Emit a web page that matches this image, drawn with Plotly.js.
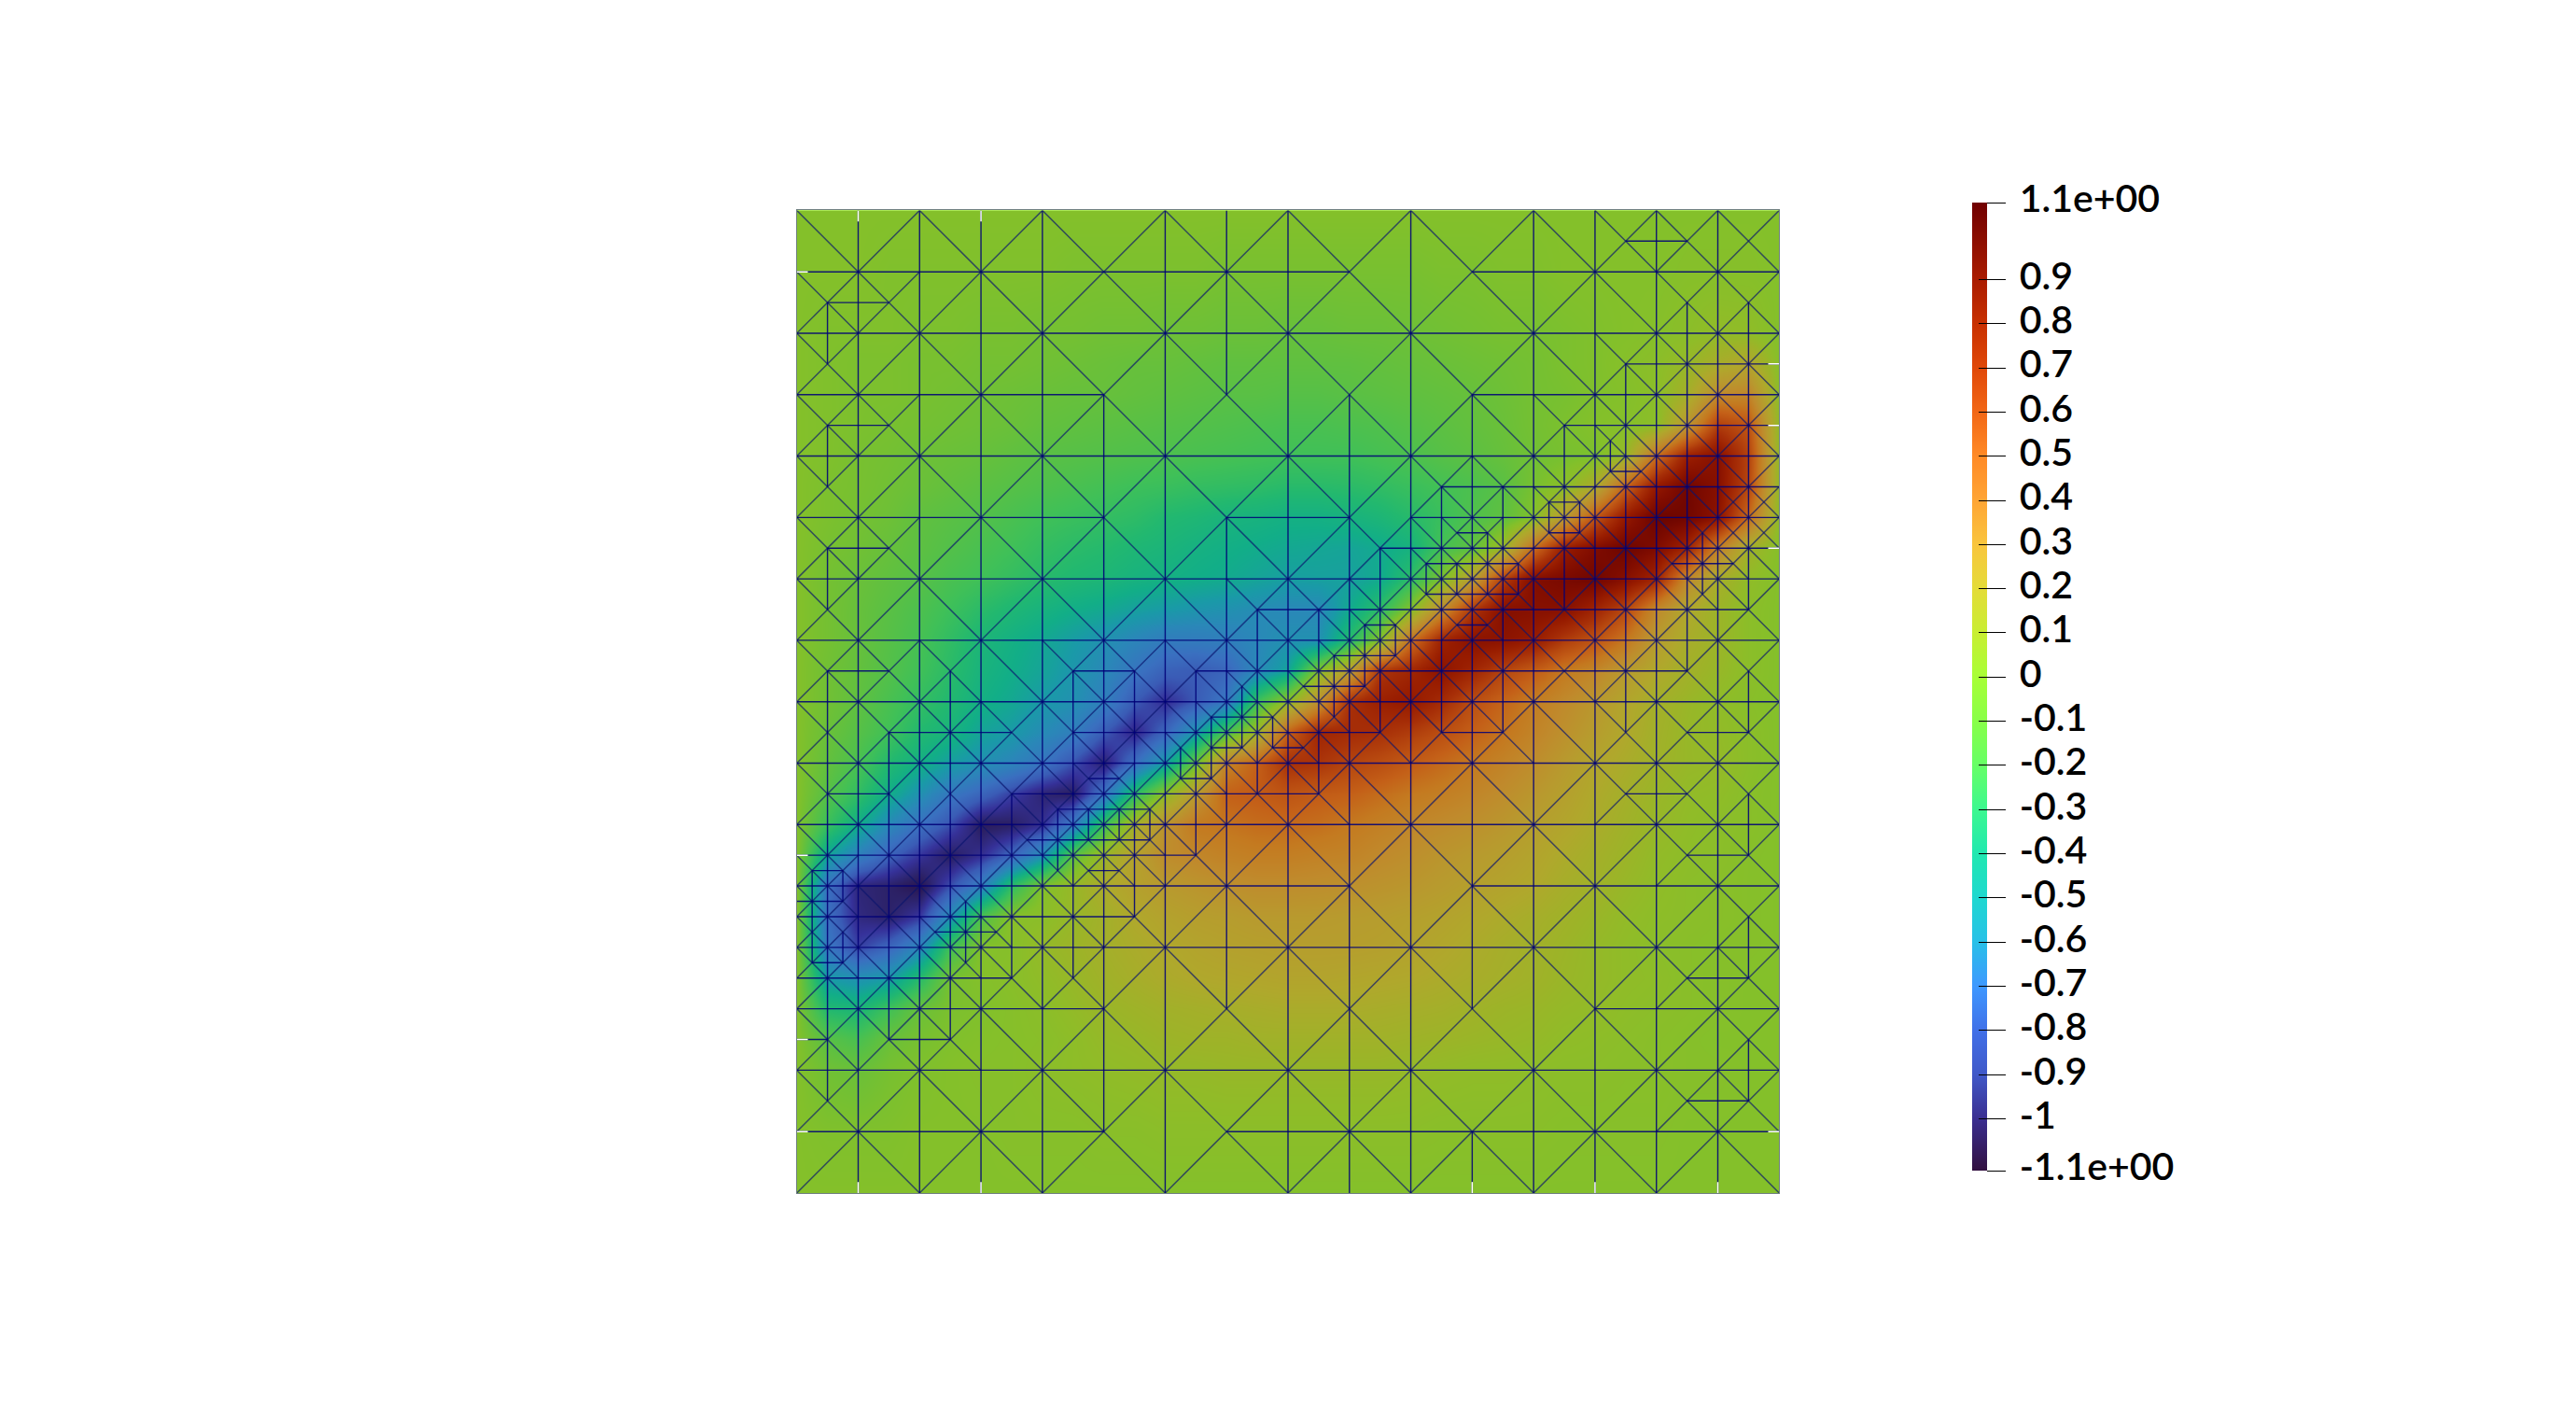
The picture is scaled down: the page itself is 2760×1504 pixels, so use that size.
<!DOCTYPE html>
<html>
<head>
<meta charset="utf-8">
<script src="https://cdn.plot.ly/plotly-3.0.1.min.js"></script>
<style>html,body{margin:0;padding:0;background:#fff;overflow:hidden}#chart{width:2760px;height:1504px}</style>
</head>
<body>
<div id="chart"></div>
<script>
// Field samples: columns x = 0, 0.5, ... 16
var gridX = [0,.5,1,1.5,2,2.5,3,3.5,4,4.5,5,5.5,6,6.5,7,7.5,8,8.5,9,9.5,10,10.5,11,11.5,12,12.5,13,13.5,14,14.5,15,15.5,16];
var gridY = [0,1,2,2.5,3,3.5,4,4.5,5,5.5,6,6.5,7,7.5,8,8.5,9,9.5,10,10.5,11,11.5,12,12.5,13,13.5,14,15,16];
var fieldZ = [
[0,0,0,0,0,0,0,0,0,0,0,0,0,0,0,0,0,0,0,0,0,0,0,0,0,0,0,0,0,0,0,0,0],
[0,0,0,-.01,-.01,-.01,-.01,-.01,-.01,-.02,-.02,-.02,-.02,-.02,-.03,-.03,-.03,-.03,-.03,-.03,-.03,-.02,-.02,-.01,-.01,0,0,0,0,.01,.01,.01,0],
[0,-.01,-.01,-.01,-.02,-.02,-.03,-.03,-.04,-.04,-.05,-.05,-.06,-.06,-.07,-.07,-.08,-.08,-.07,-.07,-.06,-.05,-.04,-.03,-.03,-.02,-.01,0,.01,.03,.06,.05,0],
[0,-.01,-.02,-.02,-.03,-.03,-.04,-.04,-.05,-.06,-.07,-.08,-.08,-.09,-.1,-.1,-.1,-.1,-.1,-.09,-.08,-.07,-.06,-.05,-.04,-.02,-.01,.01,.03,.08,.16,.22,.01],
[0,-.01,-.02,-.02,-.03,-.04,-.05,-.06,-.07,-.08,-.08,-.09,-.1,-.11,-.12,-.12,-.13,-.13,-.12,-.11,-.1,-.09,-.08,-.06,-.04,-.03,-.01,0,.03,.14,.4,.42,.03],
[0,-.01,-.02,-.03,-.04,-.05,-.06,-.07,-.09,-.1,-.11,-.12,-.13,-.14,-.15,-.16,-.17,-.17,-.16,-.15,-.13,-.11,-.09,-.07,-.04,-.02,0,.01,.03,.32,.75,.65,.04],
[0,-.01,-.03,-.04,-.06,-.07,-.08,-.1,-.12,-.13,-.14,-.15,-.16,-.17,-.18,-.19,-.2,-.2,-.2,-.18,-.16,-.13,-.11,-.08,-.05,-.03,-.02,.08,.55,.88,.97,.72,.05],
[0,-.02,-.03,-.05,-.07,-.09,-.11,-.13,-.15,-.17,-.19,-.21,-.22,-.24,-.25,-.26,-.28,-.28,-.27,-.25,-.22,-.19,-.16,-.12,-.03,.03,.18,.6,.92,1.05,.97,.7,.05],
[0,-.02,-.04,-.06,-.1,-.12,-.14,-.17,-.2,-.22,-.24,-.26,-.3,-.32,-.35,-.36,-.38,-.38,-.36,-.33,-.28,-.22,-.15,-.1,0,.3,.65,.92,1.07,1.05,.95,.55,.03],
[0,-.03,-.05,-.08,-.11,-.14,-.17,-.2,-.24,-.27,-.29,-.32,-.34,-.37,-.39,-.41,-.43,-.44,-.45,-.42,-.36,-.18,-.1,.1,.55,.9,1.0,1.06,1.0,.85,.45,.12,.01],
[0,-.04,-.07,-.1,-.13,-.17,-.2,-.24,-.28,-.31,-.33,-.36,-.38,-.4,-.42,-.45,-.48,-.47,-.47,-.42,-.25,-.01,.28,.75,.99,1.02,1.05,.97,.85,.4,.15,.05,0],
[0,-.04,-.08,-.12,-.16,-.21,-.27,-.32,-.36,-.4,-.43,-.47,-.5,-.53,-.55,-.58,-.6,-.6,-.42,-.25,.02,.4,.78,.98,.97,.97,.85,.7,.4,.2,.1,.03,0],
[0,-.04,-.08,-.13,-.18,-.25,-.33,-.38,-.43,-.49,-.55,-.62,-.68,-.68,-.66,-.6,-.55,-.55,-.28,.02,.55,.87,.96,.95,.9,.75,.65,.5,.28,.16,.1,.03,0],
[0,-.05,-.09,-.14,-.2,-.27,-.35,-.4,-.45,-.52,-.6,-.72,-.82,-.85,-.8,-.6,-.45,.02,.27,.78,.85,.95,.85,.72,.62,.5,.42,.3,.2,.13,.08,.03,0],
[0,-.05,-.1,-.17,-.24,-.3,-.38,-.43,-.5,-.55,-.65,-.85,-.97,-.85,-.7,-.2,.05,.35,.8,.88,.92,.82,.68,.58,.48,.4,.32,.22,.14,.09,.05,.02,0],
[0,-.07,-.13,-.2,-.3,-.35,-.45,-.5,-.58,-.66,-.85,-1.0,-.8,-.5,-.15,.1,.6,.85,.82,.8,.75,.68,.6,.52,.44,.36,.28,.2,.13,.08,.06,.03,0],
[0,-.09,-.17,-.3,-.38,-.48,-.55,-.62,-.72,-.88,-1.04,-.75,-.47,-.05,.45,.6,.8,.78,.72,.68,.62,.56,.5,.44,.38,.3,.22,.17,.12,.08,.07,.03,0],
[0,-.13,-.25,-.4,-.55,-.7,-.8,-.92,-1.03,-1.07,-.72,-.25,.05,.3,.6,.62,.65,.62,.6,.55,.5,.47,.43,.38,.32,.26,.19,.14,.09,.06,.05,.02,0],
[0,-.22,-.4,-.6,-.75,-.88,-1.08,-1.06,-.97,-.68,-.2,.15,.35,.5,.52,.55,.56,.54,.5,.46,.42,.39,.36,.32,.27,.22,.17,.12,.08,.05,.03,.02,0],
[0,-.45,-.65,-.82,-.95,-1.07,-.97,-.8,-.55,-.1,.1,.25,.38,.42,.45,.47,.47,.45,.44,.4,.37,.33,.3,.27,.23,.18,.14,.1,.06,.04,.03,.01,0],
[0,-.75,-1.02,-1.05,-1.12,-.88,-.65,-.25,0,.08,.18,.25,.3,.33,.36,.38,.38,.37,.36,.34,.32,.29,.26,.23,.2,.15,.12,.08,.05,.03,.02,.01,0],
[0,-.75,-1.0,-1.05,-.93,-.55,-.15,.02,.03,.08,.13,.2,.24,.27,.28,.3,.3,.3,.29,.28,.26,.24,.21,.18,.15,.12,.09,.06,.04,.03,.02,.01,0],
[0,-.7,-.92,-.8,-.6,-.2,0,.01,.07,.1,.14,.17,.2,.23,.25,.26,.27,.27,.27,.26,.24,.21,.18,.15,.13,.1,.07,.05,.03,.02,.01,.01,0],
[0,-.5,-.55,-.5,-.28,-.03,0,.02,.05,.08,.12,.15,.18,.2,.21,.22,.23,.23,.22,.21,.2,.18,.16,.14,.12,.09,.07,.05,.04,.02,.01,0,0],
[0,-.3,-.33,-.2,-.07,-.02,-.01,.01,.03,.06,.09,.11,.13,.14,.15,.16,.17,.17,.17,.16,.15,.14,.12,.1,.09,.07,.06,.04,.03,.02,.01,0,0],
[0,-.12,-.17,-.07,-.03,-.01,0,.01,.02,.04,.07,.08,.1,.11,.11,.12,.12,.12,.12,.12,.11,.1,.09,.08,.07,.05,.04,.03,.02,.01,0,0,0],
[0,-.05,-.07,-.03,-.01,0,.01,.01,.03,.04,.05,.06,.07,.07,.08,.08,.08,.08,.08,.08,.07,.06,.05,.05,.04,.03,.03,.02,.02,.01,.01,0,0],
[0,-.01,-.01,-.01,0,0,0,.01,.01,.01,.02,.02,.03,.03,.03,.03,.03,.03,.03,.03,.03,.02,.02,.02,.02,.01,.01,.01,.01,0,0,0,0],
[0,0,0,0,0,0,0,0,0,0,0,0,0,0,0,0,0,0,0,0,0,0,0,0,0,0,0,0,0,0,0,0,0]
];

// Colour stops: the surface as seen in the plot, and the legend bar
var zMin = -1.117, zMax = 1.074;
var surfaceStops  = [-1.117,-1.05,-.95,-.85,-.75,-.6,-.5,-.4,-.3,-.2,-.1,-.03,0,.05,.1,.2,.3,.4,.5,.6,.7,.8,.9,1.0,1.074];
var surfaceColors = ['#2a1650','#2c2268','#36329a','#3a5cb6','#3a70c0','#2a88b8','#1a9aa8','#12ae88','#22b870','#40c058','#60c040','#78c030','#84c02a','#90bc28','#9cb428','#b0a82c','#b89a2e','#c08a2c','#c47a20','#c46018','#b84a10','#a83008','#981c00','#800c00','#6a0400'];
var barStops  = [-1.117,-1,-.9,-.8,-.7,-.6,-.5,-.4,-.3,-.2,-.1,0,.1,.2,.3,.4,.5,.6,.7,.8,.9,1.074];
var barColors = ['#321040','#3a2e90','#4058c8','#4070e8','#3e98ff','#28c0e8','#1ed8d0','#20e8b0','#3cf890','#66ff66','#88ff48','#a8ff36','#c8ee32','#e4dc38','#f9c53d','#ffa535','#ff8a26','#f26716','#e04808','#c83000','#aa1c00','#700000'];

var tickValues = [1.074,.9,.8,.7,.6,.5,.4,.3,.2,.1,0,-.1,-.2,-.3,-.4,-.5,-.6,-.7,-.8,-.9,-1,-1.117];
var tickTexts  = ['1.1e+00','0.9','0.8','0.7','0.6','0.5','0.4','0.3','0.2','0.1','0','-0.1','-0.2','-0.3','-0.4','-0.5','-0.6','-0.7','-0.8','-0.9','-1','-1.1e+00'];

// Mesh edges. Horizontal: [y, x1, x2]
var meshH = [[.5,13.5,14.5],[1,0,9],[1,11,16],[1.5,.5,1.5],[2,0,16],[2.5,13.5,16],[3,0,5],[3,11,16],[3.5,.5,1.5],[3.5,12.5,16],[4,0,16],[4.25,13.25,13.75],[4.5,10.5,16],[4.75,12.25,12.75],[5,0,5],[5,7,9],[5,10,16],[5.25,10.75,11.25],[5.25,12.25,12.75],[5.5,.5,1.5],[5.5,9.5,16],[5.75,10.25,11.75],[5.75,14.25,15.25],[6,0,16],[6.25,10.25,11.75],[6.5,7.5,15.5],[6.75,9.25,9.75],[6.75,10.75,11.25],[7,0,16],[7.25,8.75,9.75],[7.5,.5,1.5],[7.5,4.5,5.5],[7.5,6.5,14.5],[7.75,8.25,9.25],[8,0,16],[8.25,6.75,7.75],[8.5,1.5,3.5],[8.5,4.5,9.5],[8.5,10.5,11.5],[8.5,14.5,15.5],[8.75,6.75,7.25],[8.75,7.75,8.25],[9,0,16],[9.25,4.75,5.25],[9.25,6.25,6.75],[9.5,.5,1.5],[9.5,3.5,8.5],[9.5,13.5,14.5],[9.75,4.25,5.75],[10,0,16],[10.25,3.75,5.75],[10.5,0,6.5],[10.5,14.5,15.5],[10.75,.25,.75],[10.75,4.75,5.25],[11,0,9],[11,11,16],[11.25,0,.75],[11.5,0,5.5],[11.75,2.25,3.25],[12,0,16],[12.25,.25,.75],[12.5,0,3.5],[12.5,14.5,15.5],[13,0,5],[13,13,16],[13.5,0,.5],[13.5,1.5,2.5],[14,0,16],[14.5,14.5,15.5],[15,0,5],[15,7,16]];
// Vertical: [x, y1, y2]
var meshV = [[.25,10.75,12.25],[.5,1.5,2.5],[.5,3.5,4.5],[.5,5.5,6.5],[.5,7.5,14.5],[.75,10.75,11.25],[.75,11.75,12.25],[1,0,16],[1.5,8.5,13.5],[2,0,16],[2.5,7.5,13.5],[2.75,11.25,12.25],[3,0,16],[3.5,9.5,12.5],[4,0,16],[4.25,9.75,10.75],[4.5,7.5,12.5],[4.75,9.75,10.25],[5,3,15],[5.25,9.75,10.25],[5.5,7.5,11.5],[5.75,9.75,10.25],[6,0,16],[6.25,8.75,9.25],[6.5,7.5,10.5],[6.75,8.25,9.25],[7,0,3],[7,5,13],[7.25,7.75,8.75],[7.5,6.5,9.5],[7.75,8.25,8.75],[8,0,16],[8.5,6.5,9.5],[8.75,7.25,8.25],[9,3,16],[9.25,6.75,7.75],[9.5,5.5,8.5],[9.75,6.75,7.25],[10,0,16],[10.25,5.75,6.25],[10.5,4.5,8.5],[10.75,5.75,6.25],[11,3,13],[11,15,16],[11.25,5.25,6.25],[11.5,4.5,8.5],[11.75,5.75,6.25],[12,0,16],[12.25,4.75,5.25],[12.5,3.5,6.5],[12.75,4.75,5.25],[13,0,16],[13.25,3.75,4.25],[13.5,2.5,8.5],[14,0,16],[14.5,1.5,7.5],[14.75,5.25,6.25],[15,0,16],[15.5,1.5,6.5],[15.5,7.5,8.5],[15.5,9.5,10.5],[15.5,11.5,12.5],[15.5,13.5,14.5]];
// Diagonal lattice lines, named by their constant: y-x = c and y+x = c
var latticeFall = [-14,-12,-10,-8,-6,-4,-2,0,2,4,6,8,10,12,14];
var latticeRise = [2,4,6,8,10,12,14,16,18,20,22,24,26,28,30];
// Unit cells split by their second diagonal, as cell centres
var splitCells = [[13.5,.5],[14.5,.5],[15.5,.5],[.5,1.5],[1.5,1.5],[14.5,1.5],[15.5,1.5],[.5,2.5],[13.5,2.5],[14.5,2.5],[15.5,2.5],[.5,3.5],[1.5,3.5],[12.5,3.5],[13.5,3.5],[14.5,3.5],[15.5,3.5],[.5,4.5],[10.5,4.5],[11.5,4.5],[12.5,4.5],[13.5,4.5],[14.5,4.5],[15.5,4.5],[.5,5.5],[1.5,5.5],[9.5,5.5],[10.5,5.5],[11.5,5.5],[12.5,5.5],[13.5,5.5],[14.5,5.5],[15.5,5.5],[.5,6.5],[7.5,6.5],[8.5,6.5],[9.5,6.5],[10.5,6.5],[11.5,6.5],[12.5,6.5],[13.5,6.5],[14.5,6.5],[15.5,6.5],[.5,7.5],[1.5,7.5],[2.5,7.5],[4.5,7.5],[5.5,7.5],[6.5,7.5],[7.5,7.5],[8.5,7.5],[9.5,7.5],[10.5,7.5],[11.5,7.5],[12.5,7.5],[13.5,7.5],[14.5,7.5],[15.5,7.5],[.5,8.5],[1.5,8.5],[2.5,8.5],[3.5,8.5],[4.5,8.5],[5.5,8.5],[6.5,8.5],[7.5,8.5],[8.5,8.5],[9.5,8.5],[10.5,8.5],[11.5,8.5],[13.5,8.5],[14.5,8.5],[15.5,8.5],[.5,9.5],[1.5,9.5],[2.5,9.5],[3.5,9.5],[4.5,9.5],[5.5,9.5],[6.5,9.5],[7.5,9.5],[8.5,9.5],[13.5,9.5],[14.5,9.5],[15.5,9.5],[.5,10.5],[1.5,10.5],[2.5,10.5],[3.5,10.5],[4.5,10.5],[5.5,10.5],[6.5,10.5],[14.5,10.5],[15.5,10.5],[.5,11.5],[1.5,11.5],[2.5,11.5],[3.5,11.5],[4.5,11.5],[5.5,11.5],[15.5,11.5],[.5,12.5],[1.5,12.5],[2.5,12.5],[3.5,12.5],[4.5,12.5],[14.5,12.5],[15.5,12.5],[.5,13.5],[1.5,13.5],[2.5,13.5],[15.5,13.5],[.5,14.5],[14.5,14.5],[15.5,14.5]];
// Half cells split once more, as cell centres
var quarterCells = [[.25,10.75],[.75,10.75],[.25,11.25],[.75,11.25],[.25,11.75],[.25,12.25],[.75,11.75],[.75,12.25],[2.75,11.25],[2.75,11.75],[2.75,12.25],[2.25,11.75],[3.25,11.75],[4.25,9.75],[4.75,9.75],[5.25,9.75],[5.75,9.75],[3.75,10.25],[4.25,10.25],[4.75,10.25],[5.25,10.25],[5.75,10.25],[4.25,10.75],[4.75,9.25],[5.25,9.25],[4.75,10.75],[5.25,10.75],[6.25,8.75],[6.75,8.75],[6.25,9.25],[6.75,9.25],[6.75,8.25],[7.25,8.25],[7.75,8.25],[7.25,8.75],[7.75,8.75],[7.25,7.75],[8.25,8.75],[8.75,7.25],[9.25,7.25],[8.25,7.75],[8.75,7.75],[9.25,7.75],[8.75,8.25],[9.25,6.75],[9.75,6.75],[9.75,7.25],[10.75,6.75],[11.25,6.75],[10.25,5.75],[10.75,5.75],[11.25,5.75],[11.75,5.75],[10.25,6.25],[10.75,6.25],[11.25,6.25],[11.75,6.25],[10.75,5.25],[11.25,5.25],[12.25,4.75],[12.75,4.75],[12.25,5.25],[12.75,5.25],[13.25,3.75],[13.25,4.25],[13.75,4.25],[14.25,5.75],[14.75,5.75],[15.25,5.75],[14.75,5.25],[14.75,6.25],[15.25,4.75],[15.75,4.75],[15.25,5.25],[15.75,5.25]];
// Short white notches on the frame, at mesh positions
var notchTop = [1,3], notchBottom = [1,3,11,13,15], notchLeft = [1,10.5,13.5,15], notchRight = [2.5,3.5,5.5,15];
var notchLen = 0.18;

function scale(stops, colors){ return stops.map(function(s,i){ return [(s-zMin)/(zMax-zMin), colors[i]]; }); }
function seg(xs,ys,x1,y1,x2,y2){ xs.push(x1,x2,null); ys.push(y1,y2,null); }

var axX=[],axY=[],dgX=[],dgY=[],noX=[],noY=[];
meshH.forEach(function(s){ seg(axX,axY,s[1],s[0],s[2],s[0]); });
meshV.forEach(function(s){ seg(axX,axY,s[0],s[1],s[0],s[2]); });
latticeFall.forEach(function(c){ var a=Math.max(0,-c), b=Math.min(16,16-c); seg(dgX,dgY,a,a+c,b,b+c); });
latticeRise.forEach(function(c){ var a=Math.max(0,c-16), b=Math.min(16,c); seg(dgX,dgY,a,c-a,b,c-b); });
splitCells.forEach(function(p){
  var ix=Math.floor(p[0]), iy=Math.floor(p[1]);
  if((ix+iy)%2===0) seg(dgX,dgY,ix+1,iy,ix,iy+1); else seg(dgX,dgY,ix,iy,ix+1,iy+1);
});
quarterCells.forEach(function(p){
  var px=Math.floor(p[0])+.5, py=Math.floor(p[1])+.5;
  var sx=p[0]<px?-1:1, sy=p[1]<py?-1:1;
  seg(dgX,dgY,p[0]+.25*sx,p[1]-.25*sy,p[0]-.25*sx,p[1]+.25*sy);
});
notchTop.forEach(function(x){ seg(noX,noY,x,0,x,notchLen); });
notchBottom.forEach(function(x){ seg(noX,noY,x,16,x,16-notchLen); });
notchLeft.forEach(function(y){ seg(noX,noY,0,y,notchLen,y); });
notchRight.forEach(function(y){ seg(noX,noY,16,y,16-notchLen,y); });

var W=2760,H=1504;
function bar(ticks, len, labels){
  return {
    thickness:16, thicknessmode:'pixels', len:1037, lenmode:'pixels',
    xref:'container', yref:'container', x:2113/W, xanchor:'left', y:1-217/H, yanchor:'top',
    xpad:0, ypad:0, outlinewidth:0, borderwidth:0,
    tickmode:'array', tickvals:tickValues, ticktext:labels?tickTexts:tickValues.map(function(){return '';}),
    ticks:ticks, ticklen:len, tickwidth:1, tickcolor:'#000',
    tickfont:{family:'Lato, sans-serif', size:41, weight:600, color:'#000'}
  };
}
var hidden = {x:gridX,y:gridY,z:fieldZ,type:'heatmap',zmin:zMin,zmax:zMax,colorscale:scale(barStops,barColors),hoverinfo:'skip'};
var data = [
  Object.assign({},hidden,{colorbar:bar('outside',20,true)}),
  Object.assign({},hidden,{colorbar:bar('inside',9,false)}),
  {x:gridX,y:gridY,z:fieldZ,type:'heatmap',zsmooth:'best',zmin:zMin,zmax:zMax,colorscale:scale(surfaceStops,surfaceColors),showscale:false,hoverinfo:'skip'},
  {x:dgX,y:dgY,type:'scatter',mode:'lines',line:{color:'rgba(10,20,110,0.68)',width:1.5},hoverinfo:'skip',showlegend:false,connectgaps:false},
  {x:axX,y:axY,type:'scatter',mode:'lines',line:{color:'rgba(0,0,120,0.88)',width:1.4},hoverinfo:'skip',showlegend:false,connectgaps:false},
  {x:noX,y:noY,type:'scatter',mode:'lines',line:{color:'#ffffff',width:1.5},hoverinfo:'skip',showlegend:false,connectgaps:false}
];
var frameAxis = {range:[0,16],showgrid:false,zeroline:false,showticklabels:false,ticks:'',showline:true,mirror:true,linecolor:'#6e7f7f',linewidth:1};
var layout = {
  width:W,height:H,autosize:false,paper_bgcolor:'#fff',plot_bgcolor:'#fff',showlegend:false,
  margin:{l:0,r:0,t:0,b:0,pad:0,autoexpand:false},
  xaxis:Object.assign({},frameAxis,{domain:[853.7/W,1906.3/W]}),
  yaxis:Object.assign({},frameAxis,{domain:[1-1278/H,1-225.4/H],range:[16,0]})
};
Plotly.newPlot('chart',data,layout,{displayModeBar:false,staticPlot:true}).then(function(){
  // nudge the legend labels to where the reference sets them
  document.querySelectorAll('.colorbar text').forEach(function(t){
    t.setAttribute('x', (+t.getAttribute('x')||0)+7);
    t.setAttribute('y', (+t.getAttribute('y')||0)-4);
  });
});
</script>
</body>
</html>
